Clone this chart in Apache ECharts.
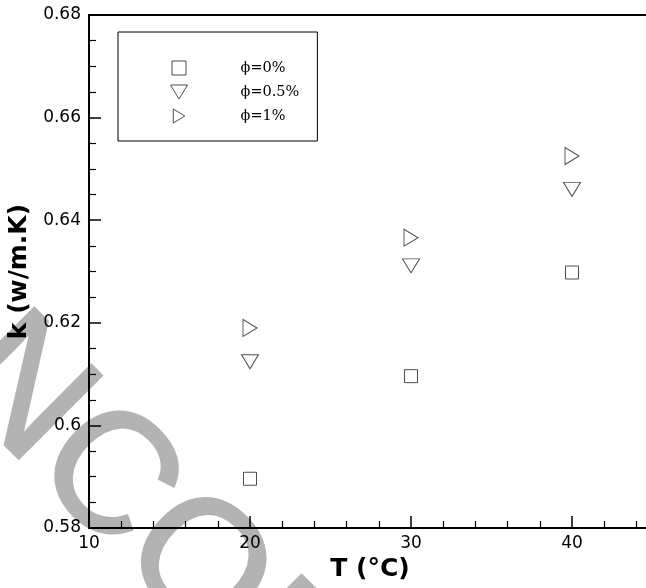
<!DOCTYPE html>
<html>
<head>
<meta charset="utf-8">
<script src="https://cdn.jsdelivr.net/npm/echarts@6/dist/echarts.min.js"></script>
<style>
  html, body { margin: 0; padding: 0; background: #fff; }
  #chart { width: 646px; height: 588px; }
</style>
</head>
<body>
<div id="chart"></div>
<script>
// temperatures (°C)
const temps = [20, 30, 40]
// thermal conductivity k (w/m.K) per volume fraction
const k0 = [0.5896, 0.6096, 0.6298]
const k05 = [0.6124, 0.6311, 0.6460]
const k1 = [0.6190, 0.6366, 0.6525]
const seriesNames = ['ϕ=0%', 'ϕ=0.5%', 'ϕ=1%']

const square = 'path://M0,0L13,0L13,13L0,13Z'
const downTri = 'path://M0,0L17,0L8.5,14Z'
const rightTri = 'path://M0,0L14,8.5L0,17Z'

const toPts = vals => temps.map((t, i) => [t, vals[i]])

const chart = echarts.init(document.getElementById('chart'))

const markerStyle = { color: '#fff', borderColor: '#222', borderWidth: 1 }

chart.setOption({
  animation: false,
  backgroundColor: '#fff',
  // plot runs past the right edge of the picture (x up to 50)
  grid: { left: 89, top: 15, width: 644, height: 513, outerBoundsMode: 'none', containLabel: false },
  graphic: [
    {
      type: 'text',
      x: -25,
      y: 348,
      rotation: -45 * Math.PI / 180,
      z: -10,
      silent: true,
      style: {
        text: 'NCORRECTED',
        font: '170px "Liberation Sans"',
        fill: '#b3b3b3',
        stroke: '#b3b3b3',
        lineWidth: 3,
        textAlign: 'left',
        textVerticalAlign: 'middle'
      }
    }
  ],
  legend: {
    orient: 'vertical',
    left: 118,
    top: 32,
    padding: [28, 18, 17, 52],
    itemGap: 8,
    itemWidth: 17,
    itemHeight: 14,
    borderColor: '#000',
    borderWidth: 1,
    backgroundColor: '#fff',
    itemStyle: { borderWidth: 1 },
    data: seriesNames,
    textStyle: {
      fontFamily: 'DejaVu Serif',
      fontSize: 14.5,
      color: '#000',
      lineHeight: 16,
      padding: [0, 0, 0, 48]
    }
  },
  xAxis: [
    {
      type: 'value',
      min: 10,
      max: 50,
      interval: 10,
      name: 'T (°C)',
      nameLocation: 'middle',
      nameGap: 24,
      // the axis runs off the picture, so pull the title back to the visible centre
      nameTextStyle: {
        fontFamily: 'DejaVu Sans', fontWeight: 'bold', fontSize: 25, color: '#000',
        verticalAlign: 'top', padding: [0, 82, 0, 0]
      },
      axisLine: { lineStyle: { color: '#000', width: 2 } },
      axisTick: { inside: true, length: 12, lineStyle: { color: '#000', width: 1.5 } },
      minorTick: { show: true, splitNumber: 5, length: 7, lineStyle: { color: '#000', width: 1.2 } },
      splitLine: { show: false },
      axisLabel: { fontFamily: 'DejaVu Sans', fontSize: 17, color: '#000', margin: 7, showMaxLabel: false }
    },
    {
      type: 'value',
      position: 'top',
      min: 10,
      max: 50,
      axisLine: { show: true, onZero: false, lineStyle: { color: '#000', width: 2 } },
      axisTick: { show: false },
      axisLabel: { show: false },
      splitLine: { show: false }
    }
  ],
  yAxis: {
    type: 'value',
    min: 0.58,
    max: 0.68,
    interval: 0.02,
    name: 'k (w/m.K)',
    nameLocation: 'middle',
    nameGap: 53,
    nameTextStyle: { fontFamily: 'DejaVu Sans', fontWeight: 'bold', fontSize: 25, color: '#000' },
    axisLine: { show: true, lineStyle: { color: '#000', width: 2 } },
    axisTick: { inside: true, length: 12, lineStyle: { color: '#000', width: 1.5 } },
    minorTick: { show: true, splitNumber: 4, length: 7, lineStyle: { color: '#000', width: 1.2 } },
    splitLine: { show: false },
    axisLabel: { fontFamily: 'DejaVu Sans', fontSize: 17, color: '#000', margin: 8 }
  },
  series: [
    {
      name: seriesNames[0],
      type: 'scatter',
      symbol: square,
      symbolSize: 13,
      itemStyle: markerStyle,
      data: toPts(k0)
    },
    {
      name: seriesNames[1],
      type: 'scatter',
      symbol: downTri,
      symbolSize: [17, 14],
      itemStyle: markerStyle,
      data: toPts(k05)
    },
    {
      name: seriesNames[2],
      type: 'scatter',
      symbol: rightTri,
      symbolSize: [14, 17],
      itemStyle: markerStyle,
      data: toPts(k1)
    }
  ]
})
</script>
</body>
</html>
